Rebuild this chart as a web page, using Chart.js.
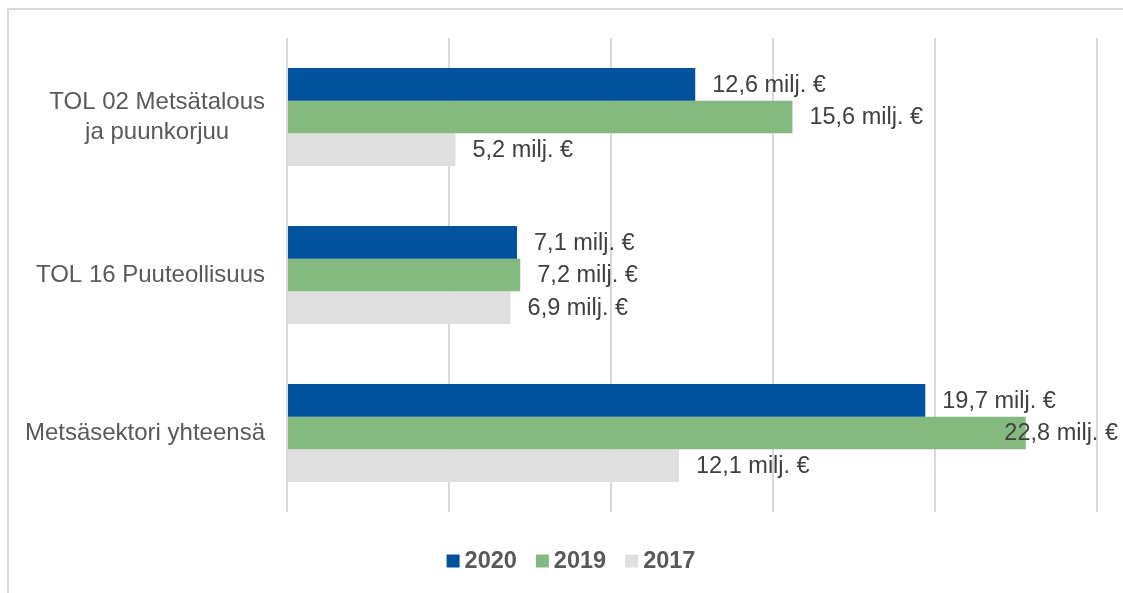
<!DOCTYPE html>
<html>
<head>
<meta charset="utf-8">
<script src="https://cdn.jsdelivr.net/npm/chart.js@4/dist/chart.umd.min.js"></script>
<style>
  html, body { margin: 0; padding: 0; background: #ffffff; overflow: hidden; }
  #frame { position: absolute; left: 7px; top: 8px; width: 1300px; height: 800px; border: 2px solid #d9d9d9; box-sizing: border-box; }
  #wrap { position: absolute; left: 0; top: 0; width: 1123px; height: 593px; }
</style>
</head>
<body>
<div id="frame"></div>
<div id="wrap"><canvas id="c" width="1123" height="593"></canvas></div>
<script>
const categories = [["TOL 02 Metsätalous", "ja puunkorjuu"], "TOL 16 Puuteollisuus", "Metsäsektori yhteensä"];
const seriesLabels = ["2020", "2019", "2017"];
const values2020 = [12.6, 7.1, 19.7];
const values2019 = [15.6, 7.2, 22.8];
const values2017 = [5.2, 6.9, 12.1];
const xTickValues = [0, 5, 10, 15, 20, 25];
const unitSuffix = " milj. €";

const colors = ["#00529C", "#84BA7F", "#DFDFDF"];

const catLabelPlugin = {
  id: 'catLabels',
  afterDraw(chart) {
    const ctx = chart.ctx;
    const y = chart.scales.y;
    ctx.save();
    ctx.font = '24px "Liberation Sans", Arial, sans-serif';
    ctx.fillStyle = '#595959';
    ctx.textBaseline = 'middle';
    ctx.textAlign = 'center';
    const rightX = chart.chartArea.left - 22;
    categories.forEach((lab, i) => {
      const lines = Array.isArray(lab) ? lab : [lab];
      const maxW = Math.max(...lines.map(l => ctx.measureText(l).width));
      const cx = rightX - maxW / 2;
      const cy = y.getPixelForValue(i);
      const lh = 30;
      lines.forEach((l, k) => {
        ctx.fillText(l, cx, cy - (lines.length - 1) * lh / 2 + k * lh);
      });
    });
    ctx.restore();
  }
};

const dataLabelPlugin = {
  id: 'dataLabels',
  afterDatasetsDraw(chart) {
    const ctx = chart.ctx;
    ctx.save();
    ctx.font = '23.5px "Liberation Sans", Arial, sans-serif';
    ctx.fillStyle = '#404040';
    ctx.textBaseline = 'middle';
    ctx.textAlign = 'left';
    chart.data.datasets.forEach((ds, di) => {
      const meta = chart.getDatasetMeta(di);
      meta.data.forEach((bar, i) => {
        const txt = ds.data[i].toFixed(1).replace('.', ',') + unitSuffix;
        const w = ctx.measureText(txt).width;
        let x = bar.x + 17;
        if (x + w > 1118) x = 1118 - w;
        ctx.fillText(txt, x, bar.y + 1);
      });
    });
    ctx.restore();
  }
};

const legendPlugin = {
  id: 'customLegend',
  afterDraw(chart) {
    const ctx = chart.ctx;
    ctx.save();
    ctx.font = 'bold 23.5px "Liberation Sans", Arial, sans-serif';
    ctx.textBaseline = 'middle';
    ctx.textAlign = 'left';
    const box = 13, gapBT = 5, gapItems = 19;
    const items = chart.data.datasets.map(ds => ({ label: ds.label, color: ds.backgroundColor, w: ctx.measureText(ds.label).width }));
    const total = items.reduce((s, it) => s + box + gapBT + it.w, 0) + gapItems * (items.length - 1);
    let x = 571 - total / 2;
    const cy = 561;
    items.forEach(it => {
      ctx.fillStyle = it.color;
      ctx.fillRect(x, cy - box / 2, box, box);
      x += box + gapBT;
      ctx.fillStyle = '#595959';
      ctx.fillText(it.label, x, cy + 1);
      x += it.w + gapItems;
    });
    ctx.restore();
  }
};

new Chart(document.getElementById('c'), {
  type: 'bar',
  data: {
    labels: categories,
    datasets: [
      { label: seriesLabels[0], data: values2020, backgroundColor: colors[0] },
      { label: seriesLabels[1], data: values2019, backgroundColor: colors[1] },
      { label: seriesLabels[2], data: values2017, backgroundColor: colors[2] }
    ]
  },
  options: {
    indexAxis: 'y',
    responsive: false,
    animation: false,
    devicePixelRatio: 1,
    layout: { padding: { top: 38, right: 26, bottom: 81, left: 0 } },
    datasets: {
      bar: {
        barPercentage: 1,
        categoryPercentage: 0.62,
        borderWidth: 0
      }
    },
    plugins: {
      legend: { display: false },
      tooltip: { enabled: false }
    },
    scales: {
      x: {
        min: xTickValues[0],
        max: xTickValues[xTickValues.length - 1],
        afterBuildTicks(scale) { scale.ticks = xTickValues.map(v => ({ value: v })); },
        ticks: { display: false },
        grid: { color: '#d9d9d9', lineWidth: 2, drawTicks: false },
        border: { display: false },
        afterFit(scale) { scale.height = 0; }
      },
      y: {
        ticks: { display: false },
        grid: { display: false, drawTicks: false },
        border: { display: false },
        afterFit(scale) { scale.width = 287; }
      }
    }
  },
  plugins: [catLabelPlugin, dataLabelPlugin, legendPlugin]
});
</script>
</body>
</html>
